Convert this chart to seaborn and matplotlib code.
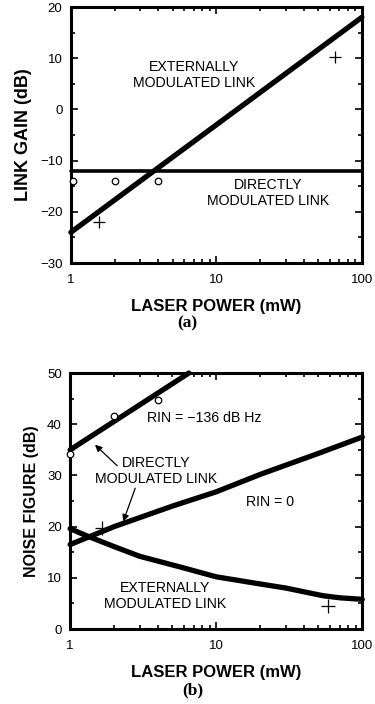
import matplotlib
matplotlib.use("Agg")
import matplotlib.pyplot as plt
import seaborn as sns
import pandas as pd
import numpy as np
from matplotlib.ticker import FixedLocator, LogLocator, MultipleLocator, NullFormatter

sns.set_theme(style="ticks")
plt.rcParams['font.family'] = ['Liberation Sans', 'DejaVu Sans']
plt.rcParams['axes.unicode_minus'] = True
plt.rcParams['text.color'] = 'black'
plt.rcParams['axes.labelcolor'] = 'black'

# ---- Panel (a): link gain ----
a_ext_x = [1, 100]
a_ext_y = [-24, 18]
a_dir_x = [1, 100]
a_dir_y = [-12, -12]
a_circ_x = [1.03, 2, 4]
a_circ_y = [-14, -14, -14]
a_plus_x = [1.55, 65]
a_plus_y = [-22, 10.3]

# ---- Panel (b): noise figure ----
b_rin136_x = [1, 6.5]
b_rin136_y = [35, 50]
b_rin0_x = [1, 2, 5, 10, 20, 50, 100]
b_rin0_y = [16.5, 20, 24, 26.8, 30.2, 34.3, 37.5]
b_ext_x = [1, 1.3, 2, 3, 5.7, 10, 20, 30, 54, 70, 100]
b_ext_y = [19.6, 18.2, 16.1, 14.2, 12.1, 10.2, 8.8, 8.0, 6.5, 6.1, 5.8]
b_circ_x = [1, 2, 4]
b_circ_y = [34.2, 41.7, 44.8]
b_plus_x = [1.65, 58]
b_plus_y = [19.8, 4.5]

x_ticks = [1, 10, 100]
x_ticklabels = ["1", "10", "100"]
a_yticks = [-30, -20, -10, 0, 10, 20]
b_yticks = [0, 10, 20, 30, 40, 50]

fig = plt.figure(figsize=(3.75, 7.04), dpi=100)
axa = fig.add_axes([0.189, 0.6264, 0.776, 0.3636])
axb = fig.add_axes([0.187, 0.1065, 0.779, 0.3636])

def style(ax, yticks, ylabel, ymin, ymax, ylsize):
    ax.set_xscale("log")
    ax.set_xlim(1, 100)
    ax.set_ylim(ymin, ymax)
    ax.xaxis.set_major_locator(FixedLocator(x_ticks))
    ax.set_xticklabels(x_ticklabels)
    ax.xaxis.set_minor_locator(LogLocator(base=10, subs=np.arange(2, 10)))
    ax.xaxis.set_minor_formatter(NullFormatter())
    ax.set_yticks(yticks)
    ax.yaxis.set_minor_locator(MultipleLocator(5))
    ax.tick_params(which="both", direction="in", top=True, right=True,
                   labelsize=9.5, color="black", labelcolor="black", width=1.2)
    ax.tick_params(which="major", length=5, pad=6)
    ax.tick_params(which="minor", length=3)
    ax.tick_params(axis="x", pad=8)
    for s in ax.spines.values():
        s.set_visible(True)
        s.set_linewidth(2.2)
        s.set_color("black")
    ax.set_xlabel("LASER POWER (mW)", fontsize=12, fontweight="bold", labelpad=9)
    ax.set_ylabel(ylabel, fontsize=ylsize, fontweight="bold", labelpad=6)
    ax.set_facecolor("white")

# Panel (a)
sns.lineplot(x=a_ext_x, y=a_ext_y, ax=axa, color="black", linewidth=3.8, clip_on=False)
sns.lineplot(x=a_dir_x, y=a_dir_y, ax=axa, color="black", linewidth=2.6, clip_on=False)
sns.scatterplot(x=a_circ_x, y=a_circ_y, ax=axa, marker="o", s=22, facecolor="white",
                edgecolor="black", linewidth=0.9, clip_on=False, zorder=5)
sns.scatterplot(x=a_plus_x, y=a_plus_y, ax=axa, marker="+", s=70, color="black",
                linewidth=0.9, zorder=5)
style(axa, a_yticks, "LINK GAIN (dB)", -30, 20, 13)
axa.text(7.0, 6.7, "EXTERNALLY\nMODULATED LINK", ha="center", va="center",
         fontsize=10.2, linespacing=1.2)
axa.text(22.6, -16.4, "DIRECTLY\nMODULATED LINK", ha="center", va="center",
         fontsize=10.2, linespacing=1.2)
fig.text(0.5, 1 - 323 / 704, "(a)", ha="center", va="center", fontsize=12.5,
         family="Liberation Serif", fontweight="bold")

# Panel (b)
sns.lineplot(x=b_rin136_x, y=b_rin136_y, ax=axb, color="black", linewidth=3.8, clip_on=False)
sns.lineplot(x=b_rin0_x, y=b_rin0_y, ax=axb, color="black", linewidth=3.8, clip_on=False)
sns.lineplot(x=b_ext_x, y=b_ext_y, ax=axb, color="black", linewidth=3.8, clip_on=False)
sns.scatterplot(x=b_circ_x, y=b_circ_y, ax=axb, marker="o", s=22, facecolor="white",
                edgecolor="black", linewidth=0.9, clip_on=False, zorder=5)
sns.scatterplot(x=b_plus_x, y=b_plus_y, ax=axb, marker="+", s=90, color="black",
                linewidth=0.9, zorder=5)
style(axb, b_yticks, "NOISE FIGURE (dB)", 0, 50, 11.5)
axb.text(3.35, 41.2, "RIN = \u2212136 dB Hz", ha="left", va="center", fontsize=10.2)
axb.text(3.9, 30.9, "DIRECTLY\nMODULATED LINK", ha="center", va="center",
         fontsize=10.2, linespacing=1.15)
axb.text(16, 24.8, "RIN = 0", ha="left", va="center", fontsize=10.2)
axb.text(4.5, 6.5, "EXTERNALLY\nMODULATED LINK", ha="center", va="center",
         fontsize=10.2, linespacing=1.2)
axb.annotate("", xy=(1.48, 36.0), xytext=(2.1, 31.9),
             arrowprops=dict(arrowstyle="-|>", color="black", lw=0.9,
                             mutation_scale=10, shrinkA=0, shrinkB=0))
axb.annotate("", xy=(2.31, 21.0), xytext=(2.79, 27.5),
             arrowprops=dict(arrowstyle="-|>", color="black", lw=0.9,
                             mutation_scale=10, shrinkA=0, shrinkB=0))
fig.text(0.515, 1 - 690 / 704, "(b)", ha="center", va="center", fontsize=12.5,
         family="Liberation Serif", fontweight="bold")

fig.savefig("out.png", dpi=100, facecolor="white")
